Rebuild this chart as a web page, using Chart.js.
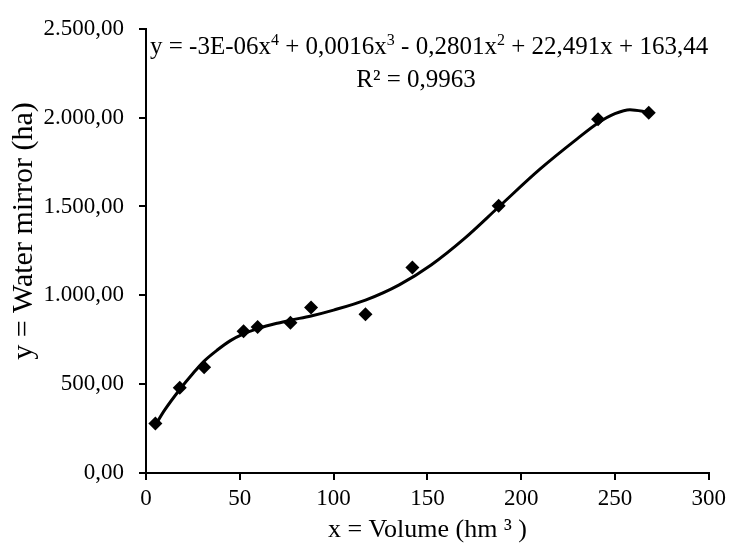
<!DOCTYPE html>
<html>
<head>
<meta charset="utf-8">
<script src="https://cdn.jsdelivr.net/npm/chart.js@4.4.1/dist/chart.umd.min.js"></script>
<style>
html,body{margin:0;padding:0;background:#fff;}
#wrap{width:731px;height:554px;}
</style>
</head>
<body>
<div id="wrap"><canvas id="c" width="731" height="554"></canvas></div>
<script>
// Observed points
const volumeX = [5, 18, 31, 52, 59.5, 77, 88, 117, 142, 188, 241, 268];
const waterMirrorY = [278, 480, 595, 798, 821, 846, 932, 893, 1156, 1504, 1991, 2028];
// Trendline
const trendX = [5, 10, 18, 25, 31, 38, 45, 52, 60, 70, 77, 88, 100, 117, 135, 152, 170, 188, 210, 230, 241, 250, 258, 268];
const trendY = [270, 355, 470, 560, 630, 692, 745, 783, 814, 843, 860, 884, 917, 973, 1059, 1171, 1322, 1497, 1710, 1882, 1970, 2022, 2045, 2030];
// Axis tick labels
const xTickLabels = ['0', '50', '100', '150', '200', '250', '300'];
const yTickLabels = ['0,00', '500,00', '1.000,00', '1.500,00', '2.000,00', '2.500,00'];
const eqLine1 = [['y = -3E-06x', false], ['4', true], [' + 0,0016x', false], ['3', true], [' - 0,2801x', false], ['2', true], [' + 22,491x + 163,44', false]];
const eqLine2 = 'R² = 0,9963';
const yTitle = 'y = Water mirror (ha)';

const FONT = '"Liberation Serif", "Times New Roman", serif';

const textPlugin = {
  id: 'texts',
  afterDraw(chart) {
    const ctx = chart.ctx;
    ctx.save();
    ctx.fillStyle = '#000';
    ctx.textBaseline = 'alphabetic';
    const big = '25px ' + FONT, small = '16px ' + FONT;
    let x = 150;
    eqLine1.forEach(([t, sup]) => {
      ctx.font = sup ? small : big;
      ctx.fillText(t, x, sup ? 45 : 54);
      x += ctx.measureText(t).width;
    });
    ctx.font = big;
    ctx.textAlign = 'center';
    ctx.fillText(eqLine2, 416, 87);
    // y axis title
    ctx.translate(24, 231);
    ctx.rotate(-Math.PI / 2);
    ctx.font = '30px ' + FONT;
    ctx.textBaseline = 'middle';
    ctx.fillText(yTitle, 0, 0);
    ctx.restore();
  }
};

new Chart(document.getElementById('c'), {
  type: 'scatter',
  data: {
    datasets: [
      {
        type: 'line',
        data: trendX.map((x, i) => ({x, y: trendY[i]})),
        borderColor: '#000',
        borderWidth: 3,
        pointRadius: 0,
        cubicInterpolationMode: 'monotone',
        fill: false,
        order: 2
      },
      {
        data: volumeX.map((x, i) => ({x, y: waterMirrorY[i]})),
        pointStyle: 'rectRot',
        pointRadius: 7,
        backgroundColor: '#000',
        borderColor: '#000',
        borderWidth: 0,
        order: 1
      }
    ]
  },
  options: {
    responsive: false,
    animation: false,
    events: [],
    layout: {padding: {top: 23, right: 19, left: 0, bottom: 0}},
    plugins: {legend: {display: false}, tooltip: {enabled: false}},
    scales: {
      x: {
        type: 'linear', min: 0, max: 300,
        afterFit(s) { s.height = 81; },
        ticks: {
          stepSize: 50, padding: 5, color: '#000',
          font: {family: FONT, size: 23},
          callback: (v) => xTickLabels[Math.round(v / 50)]
        },
        grid: {display: true, drawOnChartArea: false, drawTicks: true, tickLength: 7, color: '#000', lineWidth: 2},
        border: {color: '#000', width: 2},
        title: {display: true, text: 'x = Volume (hm ³ )', color: '#000', font: {family: FONT, size: 26}, padding: {top: 0, bottom: 8}}
      },
      y: {
        type: 'linear', min: 0, max: 2500,
        afterFit(s) { s.width = 146; },
        ticks: {
          stepSize: 500, padding: 15, color: '#000',
          font: {family: FONT, size: 23},
          callback: (v) => yTickLabels[Math.round(v / 500)]
        },
        grid: {display: true, drawOnChartArea: false, drawTicks: true, tickLength: 7, color: '#000', lineWidth: 2},
        border: {color: '#000', width: 2},
        title: {display: false}
      }
    }
  },
  plugins: [textPlugin]
});
</script>
</body>
</html>
